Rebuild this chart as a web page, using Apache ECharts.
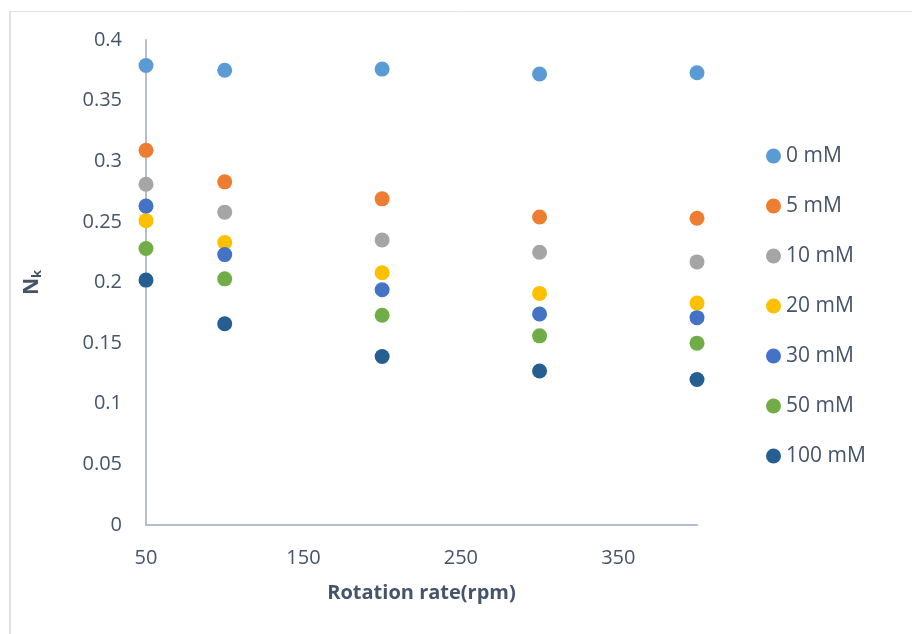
<!DOCTYPE html>
<html>
<head>
<meta charset="utf-8">
<style>
  html, body { margin: 0; padding: 0; background: #fff; }
  #chart { width: 912px; height: 634px; }
</style>
<script src="https://cdn.jsdelivr.net/npm/echarts@6/dist/echarts.min.js"></script>
</head>
<body>
<div id="chart"></div>
<script>
// Rotation rates (rpm) at which Nk was measured
const rotationRates = [50, 100, 200, 300, 400];

// Nk for each concentration
const seriesNames = ['0 mM', '5 mM', '10 mM', '20 mM', '30 mM', '50 mM', '100 mM'];
const nk0mM   = [0.379, 0.375, 0.376, 0.372, 0.373];
const nk5mM   = [0.309, 0.283, 0.269, 0.254, 0.253];
const nk10mM  = [0.281, 0.258, 0.235, 0.225, 0.217];
const nk20mM  = [0.251, 0.233, 0.208, 0.191, 0.183];
const nk30mM  = [0.263, 0.223, 0.194, 0.174, 0.171];
const nk50mM  = [0.228, 0.203, 0.173, 0.156, 0.150];
const nk100mM = [0.202, 0.166, 0.139, 0.127, 0.120];

const seriesColors = ['#5B9BD5', '#ED7D31', '#A5A5A5', '#FFC000', '#4472C4', '#70AD47', '#255E91'];

const xTicks = { min: 50, max: 400, interval: 100 };
const yTicks = { min: 0, max: 0.4, interval: 0.05 };

const allValues = [nk0mM, nk5mM, nk10mM, nk20mM, nk30mM, nk50mM, nk100mM];
const textColor = '#44546A';
const fontFamily = '"Open Sans", sans-serif';

const chart = echarts.init(document.getElementById('chart'), null, { renderer: 'canvas' });

chart.setOption({
  backgroundColor: '#ffffff',
  animation: false,
  textStyle: { fontFamily: fontFamily },
  graphic: [
    { type: 'line', shape: { x1: 9, y1: 11.5, x2: 912, y2: 11.5 }, style: { stroke: '#DDE1E8', lineWidth: 1 } },
    { type: 'line', shape: { x1: 10, y1: 11, x2: 10, y2: 634 }, style: { stroke: '#DDE1E8', lineWidth: 2 } }
  ],
  grid: { left: 146, right: 215, top: 40, bottom: 109, containLabel: false },
  legend: {
    orient: 'vertical',
    left: 761,
    top: 139,
    itemGap: 26,
    itemWidth: 15,
    itemHeight: 15,
    icon: 'circle',
    textStyle: { color: textColor, fontSize: 21, fontFamily: fontFamily, lineHeight: 24 },
    data: seriesNames
  },
  xAxis: {
    type: 'value',
    min: xTicks.min,
    max: xTicks.max,
    interval: xTicks.interval,
    name: 'Rotation rate(rpm)',
    nameLocation: 'middle',
    nameGap: 58,
    nameTextStyle: { color: textColor, fontSize: 20, fontWeight: 'bold', fontFamily: fontFamily },
    axisLine: { show: true, lineStyle: { color: '#B4BDCB', width: 2 } },
    axisTick: { show: false },
    splitLine: { show: false },
    axisLabel: { color: textColor, fontSize: 20, margin: 23, showMaxLabel: false, fontFamily: fontFamily }
  },
  yAxis: {
    type: 'value',
    min: yTicks.min,
    max: yTicks.max,
    interval: yTicks.interval,
    name: '{n|N}{k|k}',
    nameLocation: 'middle',
    nameGap: 102,
    nameRotate: 90,
    nameTextStyle: {
      rich: {
        n: { color: textColor, fontSize: 21, fontWeight: 'bold', fontFamily: fontFamily },
        k: { color: textColor, fontSize: 13, fontWeight: 'bold', fontFamily: fontFamily, verticalAlign: 'bottom', padding: [10, 0, 0, 0] }
      }
    },
    axisLine: { show: true, lineStyle: { color: '#B4BDCB', width: 2 } },
    axisTick: { show: false },
    splitLine: { show: false },
    axisLabel: {
      color: textColor, fontSize: 20, margin: 24, fontFamily: fontFamily,
      formatter: function (v) { return String(Math.round(v * 100) / 100); }
    }
  },
  series: seriesNames.map(function (name, i) {
    return {
      name: name,
      type: 'scatter',
      symbol: 'circle',
      symbolSize: 15,
      itemStyle: { color: seriesColors[i], opacity: 1 },
      data: rotationRates.map(function (x, j) { return [x, allValues[i][j]]; })
    };
  })
});
</script>
</body>
</html>
